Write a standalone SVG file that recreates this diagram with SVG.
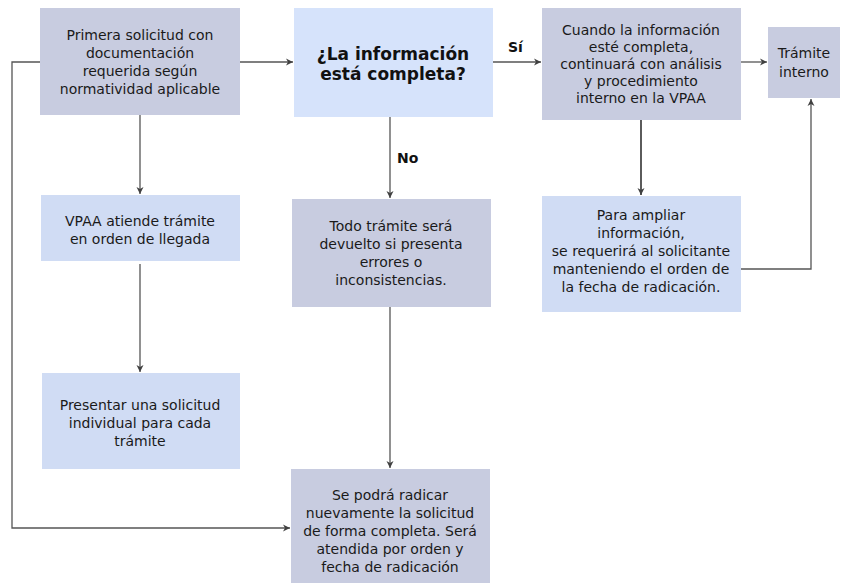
<svg xmlns="http://www.w3.org/2000/svg" width="841" height="584" viewBox="0 0 841 584">
<defs>
<marker id="ah" markerWidth="8" markerHeight="8" refX="7" refY="4" orient="auto" markerUnits="userSpaceOnUse">
<path d="M0,0.5 L7,4 L0,7.5 L2,4 Z" fill="#404040"/>
</marker>
</defs>
<style>
.g{fill:#c8cce0}
.b{fill:#d0dcf4}
.d{fill:#d6e3fb}
.t{font-family:"DejaVu Sans",Verdana,sans-serif;font-size:14px;fill:#1a1a1a;text-anchor:middle}
.tb{font-family:"DejaVu Sans",Verdana,sans-serif;font-size:17px;font-weight:bold;fill:#111;text-anchor:middle}
.lb{font-family:"DejaVu Sans",Verdana,sans-serif;font-size:14px;font-weight:bold;fill:#111}
.c{fill:none;stroke:#555;stroke-width:1.3;marker-end:url(#ah)}
</style>
<rect width="841" height="584" fill="#fff"/>
<g id="connectors">
<path class="c" d="M240,62 H293"/>
<path class="c" d="M493,62 H541"/>
<path class="c" d="M741,62 H767"/>
<path class="c" d="M390,117 V198"/>
<path class="c" d="M140,115 V194"/>
<path class="c" d="M140,264 V372"/>
<path class="c" d="M390,307 V468"/>
<path class="c" style="stroke:#333;stroke-width:1.6" d="M641,120 V195"/>
<path class="c" d="M741,269 H811 V99"/>
<path class="c" d="M40,62 H12 V528 H290"/>
<text class="lb" x="508" y="52">Sí</text>
<text class="lb" x="397" y="163">No</text>
</g>
<g id="n1"><rect class="g" x="40" y="8" width="200" height="107"/>
<text class="t"><tspan x="140" y="40">Primera solicitud con</tspan><tspan x="140" y="58">documentación</tspan><tspan x="140" y="76">requerida según</tspan><tspan x="140" y="94">normatividad aplicable</tspan></text></g>
<g id="n2"><rect class="d" x="294" y="8" width="199" height="109"/>
<text class="tb"><tspan x="393" y="60">¿La información</tspan><tspan x="393" y="80">está completa?</tspan></text></g>
<g id="n3"><rect class="g" x="542" y="8" width="199" height="112"/>
<text class="t"><tspan x="641" y="35">Cuando la información</tspan><tspan x="641" y="52">esté completa,</tspan><tspan x="641" y="69">continuará con análisis</tspan><tspan x="641" y="86">y procedimiento</tspan><tspan x="641" y="103">interno en la VPAA</tspan></text></g>
<g id="n4"><rect class="g" x="768" y="27" width="72" height="71"/>
<text class="t"><tspan x="804" y="58">Trámite</tspan><tspan x="804" y="77">interno</tspan></text></g>
<g id="n5"><rect class="b" x="41" y="195" width="199" height="66"/>
<text class="t"><tspan x="140" y="226">VPAA atiende trámite</tspan><tspan x="140" y="244">en orden de llegada</tspan></text></g>
<g id="n6"><rect class="b" x="42" y="373" width="198" height="96"/>
<text class="t"><tspan x="140" y="410">Presentar una solicitud</tspan><tspan x="140" y="428">individual para cada</tspan><tspan x="140" y="446">trámite</tspan></text></g>
<g id="n7"><rect class="g" x="292" y="199" width="199" height="108"/>
<text class="t"><tspan x="391" y="231">Todo trámite será</tspan><tspan x="391" y="249">devuelto si presenta</tspan><tspan x="391" y="267">errores o</tspan><tspan x="391" y="285">inconsistencias.</tspan></text></g>
<g id="n8"><rect class="b" x="542" y="196" width="199" height="116"/>
<text class="t"><tspan x="641" y="220">Para ampliar</tspan><tspan x="641" y="238">información,</tspan><tspan x="641" y="256">se requerirá al solicitante</tspan><tspan x="641" y="274">manteniendo el orden de</tspan><tspan x="641" y="292">la fecha de radicación.</tspan></text></g>
<g id="n9"><rect class="g" x="291" y="469" width="199" height="114"/>
<text class="t"><tspan x="390" y="500">Se podrá radicar</tspan><tspan x="390" y="518">nuevamente la solicitud</tspan><tspan x="390" y="536">de forma completa. Será</tspan><tspan x="390" y="554">atendida por orden y</tspan><tspan x="390" y="572">fecha de radicación</tspan></text></g>
</svg>
